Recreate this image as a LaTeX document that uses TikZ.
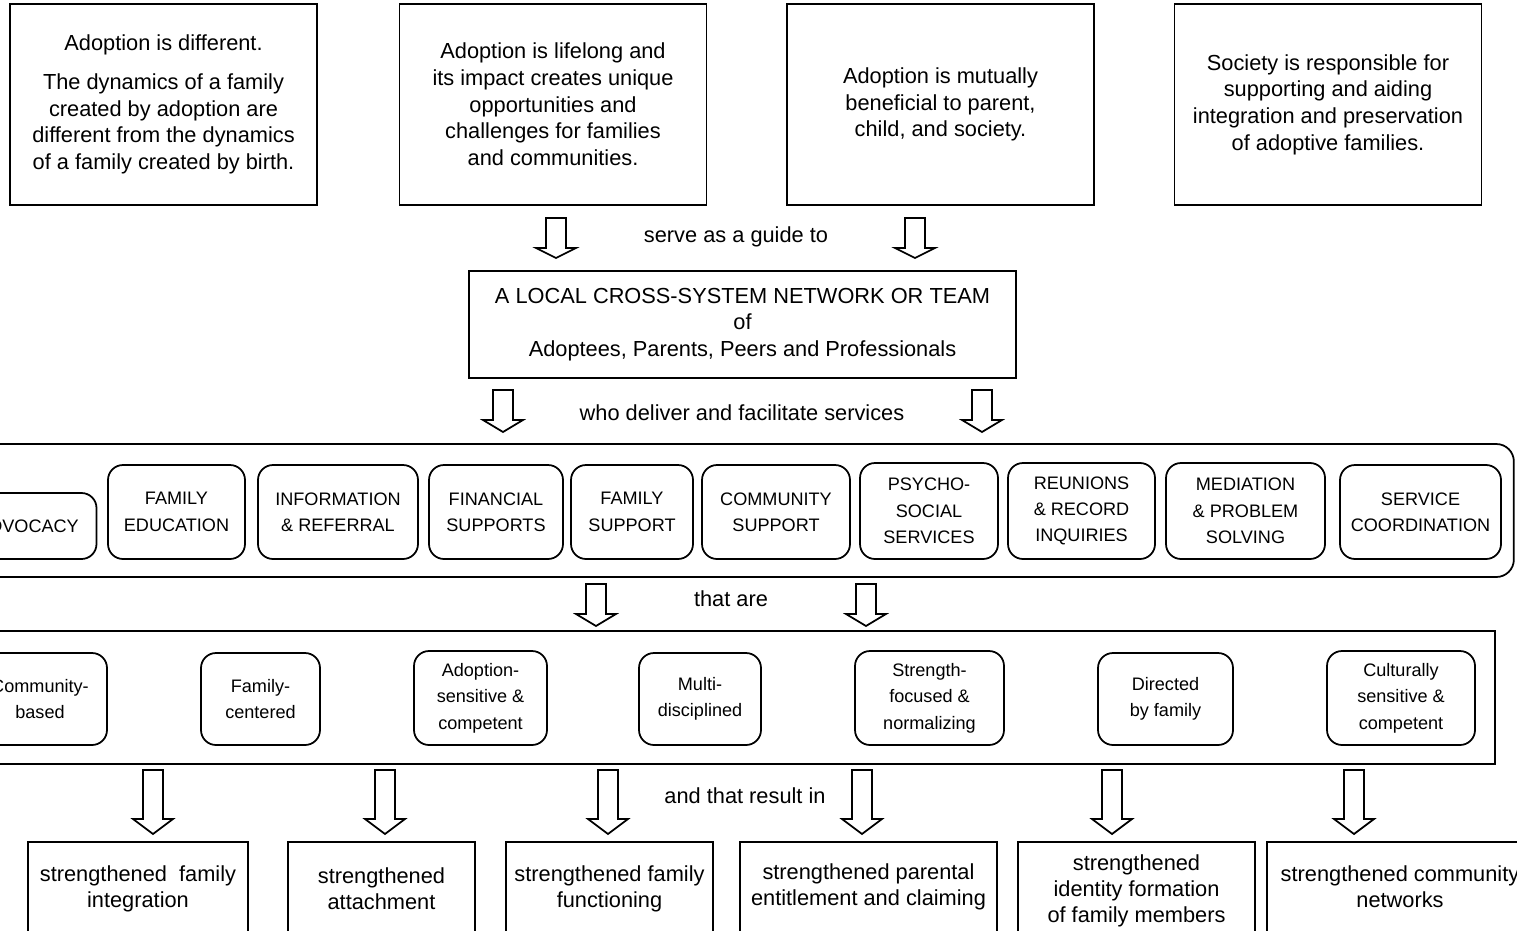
\documentclass[tikz,border=0pt]{standalone}
\usepackage{fontspec}
\setmainfont{Liberation Sans}

\begin{document}
\begin{tikzpicture}[
x=0.02cm,
y=-0.02cm,
line width=1pt,
tenet/.style={
	draw,
	align=center,
	inner sep=0pt,
	minimum width=6.14cm,
	minimum height=4.02cm,
	font=\fontsize{12.4}{15.2}\selectfont
},
service/.style={
	draw,
	rounded corners=0.3cm,
	align=center,
	inner sep=0pt,
	font=\fontsize{10.3}{15}\selectfont
},
outcome/.style={
	draw,
	align=center,
	inner sep=0pt,
	font=\fontsize{12.4}{14.8}\selectfont
},
linktext/.style={
	font=\fontsize{12.4}{15}\selectfont
},
pics/blockarrow/.style 2 args={
	code={
		\draw[line join=miter,fill=white] (-10,0) -- (10,0) -- (10,#1) -- (20,#1)
			-- (0,#1+#2) -- (-20,#1) -- (-10,#1) -- cycle;
	}
}
]
\useasboundingbox (0,0) rectangle (1517,930);
\clip (0,0) rectangle (1517,930);

% principles
\node[tenet] (t1) at (163.5,104.5) {Adoption is different.\\[6.8pt]
	The dynamics of a family\\created by adoption are\\different from the dynamics\\of a family created by birth.};
\node[tenet] (t2) at (553,104.5) {Adoption is lifelong and\\its impact creates unique\\opportunities and\\challenges for families\\and communities.};
\node[tenet] (t3) at (940.5,104.5) {Adoption is mutually\\beneficial to parent,\\child, and society.};
\node[tenet] (t4) at (1328,104.5) {Society is responsible for\\supporting and aiding\\integration and preservation\\of adoptive families.};

\pic at (556,218) {blockarrow={30}{10}};
\pic at (915,218) {blockarrow={30}{10}};
\node[linktext] (guide) at (736,237) {serve as a guide to};

% network
\node[tenet,minimum width=10.94cm,minimum height=2.14cm] (team) at (742.5,324.5)
	{A LOCAL CROSS-SYSTEM NETWORK OR TEAM\\of\\Adoptees, Parents, Peers and Professionals};

\pic at (503,390) {blockarrow={30}{12}};
\pic at (982,390) {blockarrow={30}{12}};
\node[linktext] (deliver) at (742,413) {who deliver and facilitate services};

% services
\node[draw,rounded corners=0.35cm,minimum width=30.68cm,minimum height=2.66cm,inner sep=0pt] (services) at (747,510.5) {};
\foreach \x/\y/\w/\h/\n/\t in {
	28/526/137/66/adv/ADVOCACY,
	176.5/512/137/94/edu/{FAMILY\\EDUCATION},
	338/512/160/94/inf/{INFORMATION\\\& REFERRAL},
	496/512/134/94/fin/{FINANCIAL\\SUPPORTS},
	632/512/122/94/fam/{FAMILY\\SUPPORT},
	776/512/148/94/com/{COMMUNITY\\SUPPORT},
	929/511/138/96/psy/{PSYCHO-\\SOCIAL\\SERVICES},
	1081.5/511/147/96/reu/{REUNIONS\\\& RECORD\\INQUIRIES},
	1245.5/511/159/96/med/{MEDIATION\\\& PROBLEM\\SOLVING},
	1420.5/512/161/94/coo/{SERVICE\\COORDINATION}}
\node[service,minimum width=\w*0.02cm,minimum height=\h*0.02cm] (s\n) at (\x,\y) {\t};

\pic at (596,584) {blockarrow={30}{12}};
\pic at (866,584) {blockarrow={30}{12}};
\node[linktext] (thatare) at (731,599) {that are};

% qualities
\node[draw,minimum width=30.3cm,minimum height=2.66cm,inner sep=0pt] (qualities) at (737.5,697.5) {};
\foreach \x/\y/\w/\h/\n/\t in {
	40/699/134/92/cb/{Community-\\based},
	260.5/699/119/92/fc/{Family-\\centered},
	480.5/698/133/94/as/{Adoption-\\sensitive \&\\competent},
	700/699/122/92/md/{Multi-\\disciplined},
	929.5/698/149/94/sf/{Strength-\\focused \&\\normalizing},
	1165.5/699/135/92/df/{Directed\\by family},
	1401/698/148/94/cs/{Culturally\\sensitive \&\\competent}}
\node[service,minimum width=\w*0.02cm,minimum height=\h*0.02cm] (q\n) at (\x,\y) {\t};

\foreach \x in {153,385,608,862,1112,1354}
\pic at (\x,770) {blockarrow={49}{15}};
\node[linktext] (result) at (745,796) {and that result in};

% outcomes
\node[outcome,minimum width=4.4cm,minimum height=1.88cm] (o1) at (138,889) {strengthened\ \ family\\integration};
\node[outcome,minimum width=3.74cm,minimum height=1.88cm] (o2) at (381.5,889) {strengthened\\attachment};
\node[outcome,minimum width=4.14cm,minimum height=1.88cm] (o3) at (609.5,889) {strengthened family\\functioning};
\node[outcome,minimum width=5.14cm,minimum height=1.8cm] (o4) at (868.5,887) {strengthened parental\\entitlement and claiming};
\node[outcome,minimum width=4.74cm,minimum height=1.96cm] (o5) at (1136.5,891) {strengthened\\identity formation\\of family members};
\node[outcome,minimum width=5.32cm,minimum height=1.8cm] (o6) at (1400,887) {strengthened community\\networks};

\end{tikzpicture}
\end{document}
